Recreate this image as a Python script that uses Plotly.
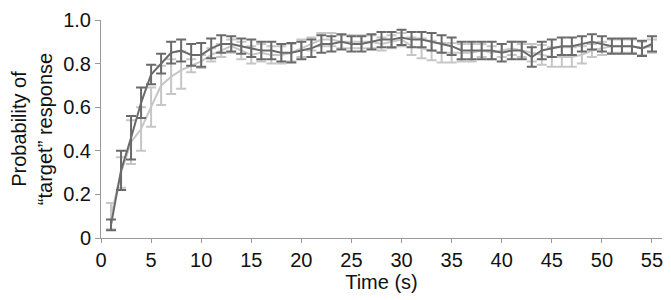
import plotly.graph_objects as go

time_s = list(range(1, 56))

dark_mean = [0.06, 0.31, 0.46, 0.62, 0.75, 0.80, 0.85, 0.86, 0.84, 0.84,
             0.87, 0.89, 0.89, 0.88, 0.87, 0.86, 0.86, 0.85, 0.85, 0.86,
             0.87, 0.89, 0.89, 0.90, 0.89, 0.89, 0.90, 0.91, 0.91, 0.92,
             0.91, 0.91, 0.90, 0.89, 0.88, 0.86, 0.86, 0.86, 0.86, 0.85,
             0.86, 0.86, 0.83, 0.86, 0.87, 0.88, 0.88, 0.89, 0.90, 0.89,
             0.88, 0.88, 0.88, 0.87, 0.89]
dark_err = [0.025, 0.09, 0.10, 0.07, 0.045, 0.045, 0.05, 0.05, 0.05, 0.055,
            0.045, 0.04, 0.035, 0.035, 0.04, 0.04, 0.04, 0.04, 0.045, 0.04,
            0.04, 0.04, 0.035, 0.035, 0.035, 0.035, 0.035, 0.035, 0.035, 0.035,
            0.035, 0.035, 0.04, 0.04, 0.04, 0.04, 0.04, 0.04, 0.04, 0.04,
            0.04, 0.04, 0.045, 0.04, 0.04, 0.04, 0.04, 0.035, 0.035, 0.035,
            0.035, 0.035, 0.035, 0.035, 0.035]

light_mean = [0.10, 0.30, 0.44, 0.50, 0.60, 0.70, 0.74, 0.77, 0.79, 0.81,
              0.84, 0.86, 0.88, 0.86, 0.84, 0.85, 0.84, 0.84, 0.85, 0.87,
              0.89, 0.91, 0.91, 0.90, 0.90, 0.90, 0.90, 0.89, 0.90, 0.91,
              0.88, 0.87, 0.86, 0.85, 0.85, 0.85, 0.85, 0.86, 0.85, 0.86,
              0.87, 0.86, 0.85, 0.84, 0.83, 0.83, 0.83, 0.84, 0.86, 0.87,
              0.88, 0.88, 0.88, 0.87, 0.88]
light_err = [0.06, 0.07, 0.10, 0.10, 0.09, 0.09, 0.08, 0.085, 0.03, 0.03,
             0.03, 0.03, 0.03, 0.04, 0.04, 0.04, 0.04, 0.04, 0.04, 0.04,
             0.03, 0.03, 0.03, 0.03, 0.03, 0.03, 0.03, 0.03, 0.03, 0.03,
             0.04, 0.045, 0.045, 0.045, 0.045, 0.04, 0.04, 0.03, 0.03, 0.03,
             0.03, 0.03, 0.04, 0.045, 0.045, 0.045, 0.045, 0.04, 0.03, 0.03,
             0.03, 0.03, 0.03, 0.03, 0.03]

x_ticks = list(range(0, 60, 5))
y_ticks = [0, 0.2, 0.4, 0.6, 0.8, 1.0]
y_tick_text = ["0", "0.2", "0.4", "0.6", "0.8", "1.0"]

LIGHT = "#c6c6c6"
DARK = "#6a6a6a"

fig = go.Figure()
fig.add_trace(go.Scatter(
    x=time_s, y=light_mean, mode="lines",
    line=dict(color=LIGHT, width=2),
    error_y=dict(type="data", array=light_err, color=LIGHT, thickness=2, width=5),
    showlegend=False))
fig.add_trace(go.Scatter(
    x=time_s, y=dark_mean, mode="lines",
    line=dict(color=DARK, width=2),
    error_y=dict(type="data", array=dark_err, color=DARK, thickness=2, width=5),
    showlegend=False))

axis_font = dict(family="Liberation Sans, Arial, sans-serif", size=20, color="#111")
# page body has an 8px margin, so the figure is sized/offset to compensate
fig.update_layout(
    width=663, height=292,
    margin=dict(l=93, r=9, t=12, b=62),
    paper_bgcolor="white", plot_bgcolor="white",
    font=axis_font,
    xaxis=dict(range=[0, 56], tickvals=x_ticks, showgrid=False, zeroline=False,
               automargin=False, ticklabeloverflow="allow",
               showline=True, linecolor="#999", linewidth=1,
               ticks="outside", ticklen=4, tickcolor="#999",
               title=dict(text="Time (s)", font=axis_font, standoff=2)),
    yaxis=dict(range=[0, 1.0], tickvals=y_ticks, ticktext=y_tick_text,
               showgrid=False, zeroline=False, automargin=False,
               ticklabeloverflow="allow",
               showline=True, linecolor="#999", linewidth=1,
               ticks="outside", ticklen=5, tickcolor="#999",
               title=dict(text="Probability of<br>“target” response", font=axis_font)),
)

fig.write_html("out.html")
